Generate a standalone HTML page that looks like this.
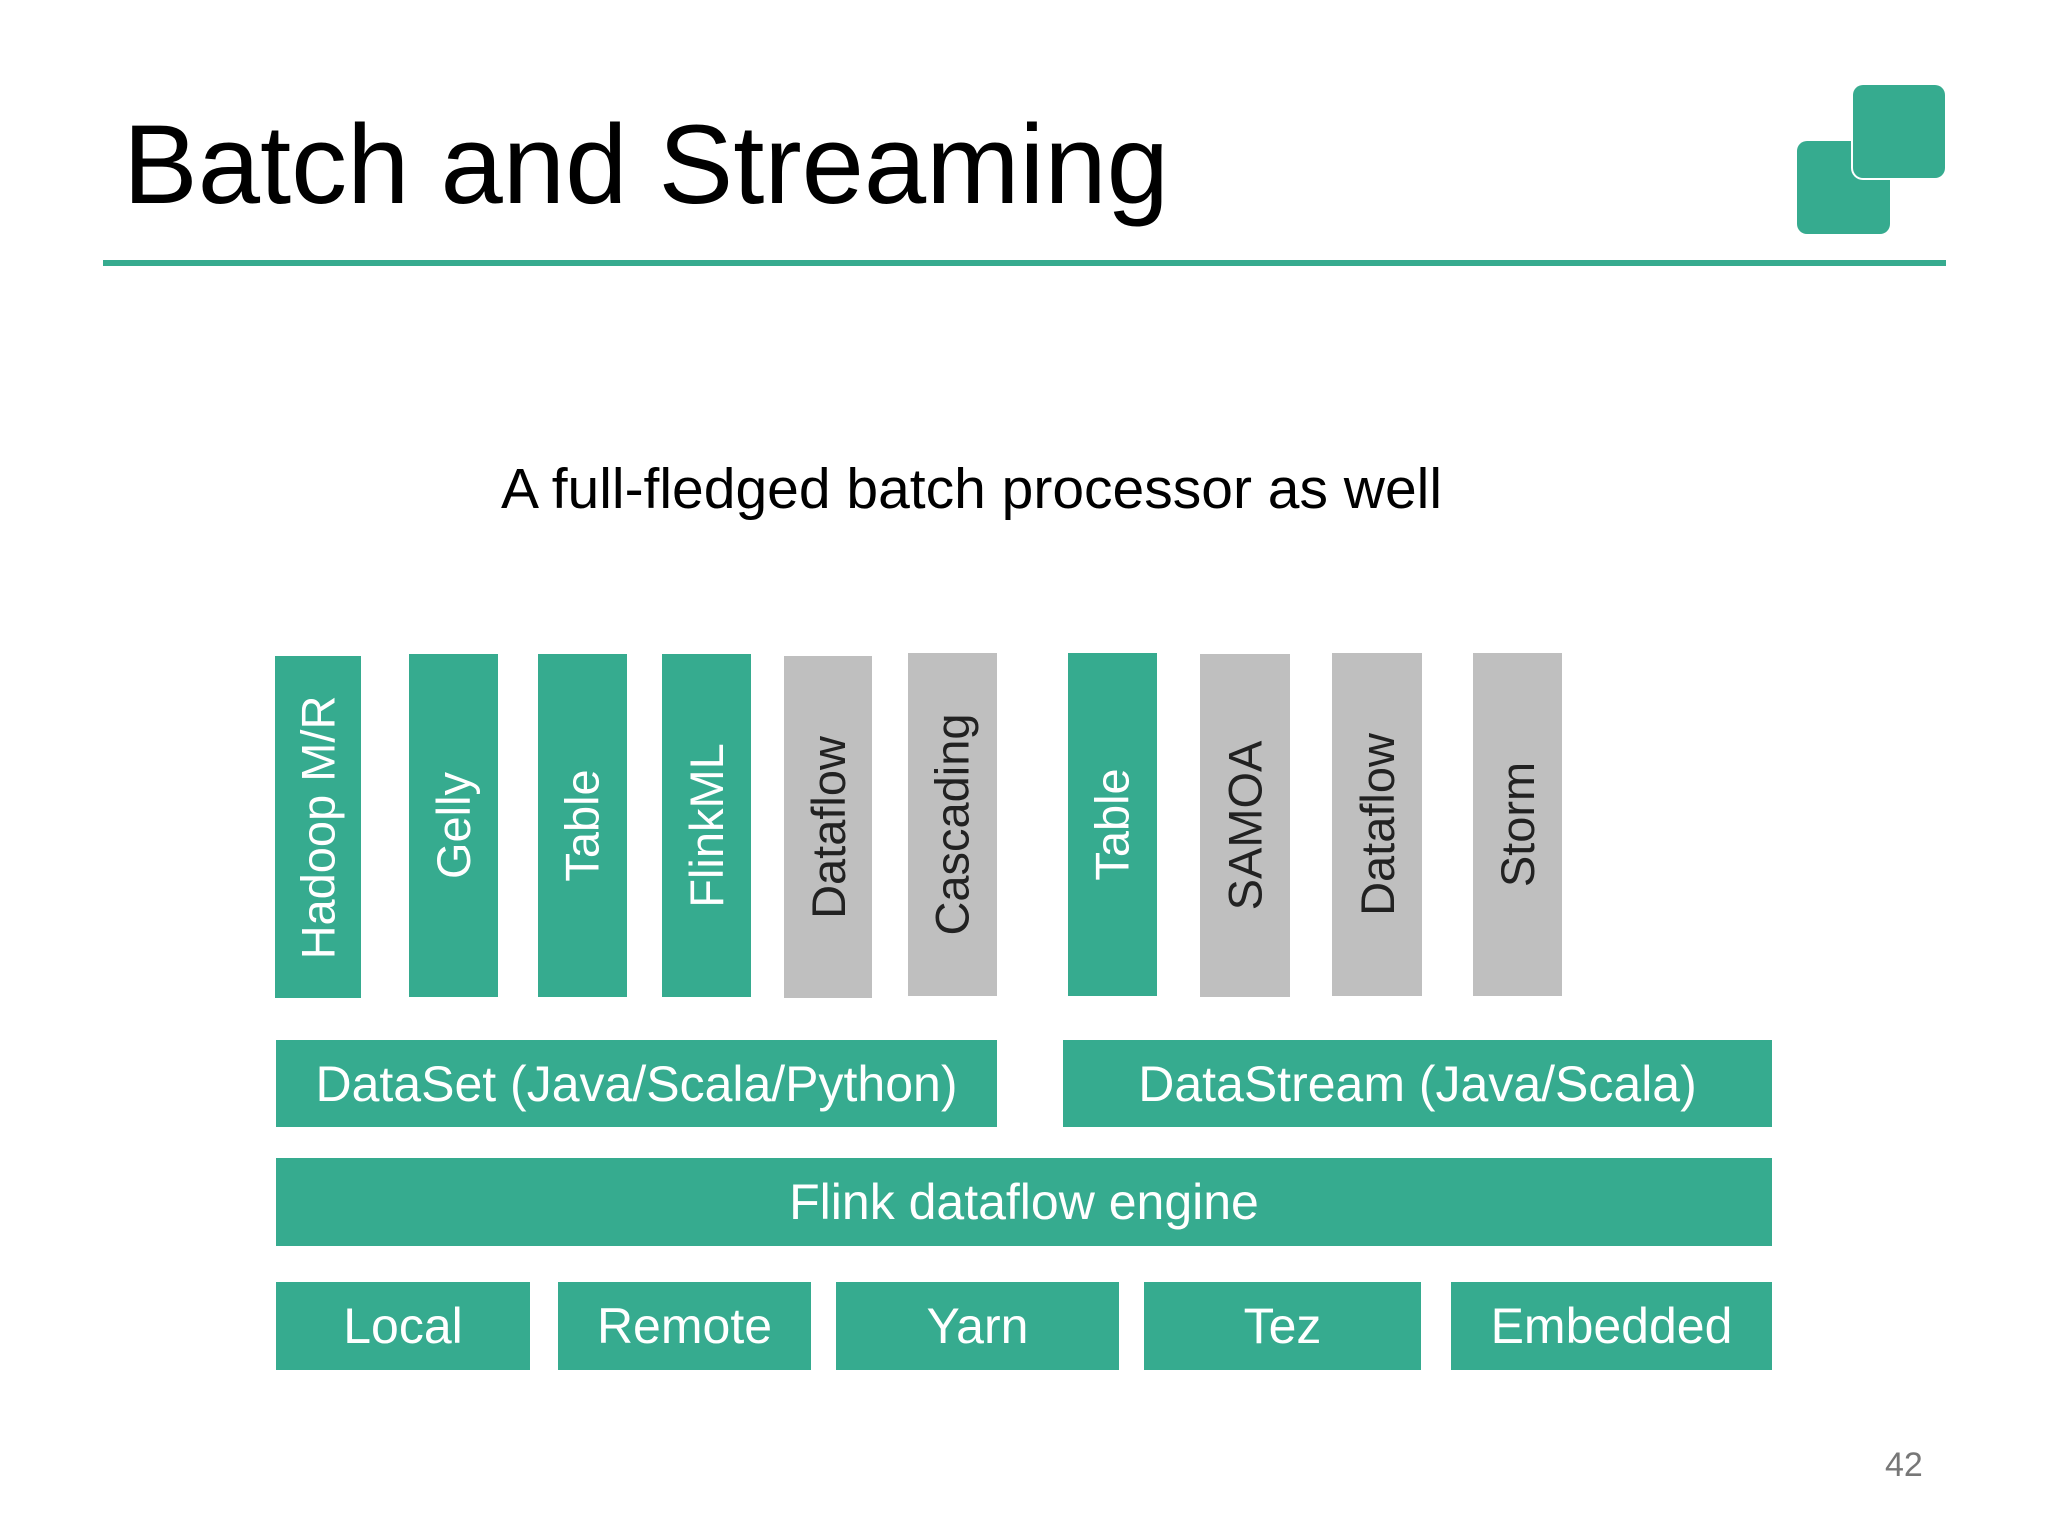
<!DOCTYPE html>
<html><head><meta charset="utf-8"><style>
body{margin:0;width:2048px;height:1536px;background:#fff;position:relative;overflow:hidden;font-family:"Liberation Sans",sans-serif}
.a{position:absolute}
.t{background:#36ab8f;color:#fff}
.g{background:#bfbfbf;color:#222}
.v{position:absolute;display:flex;align-items:center;justify-content:center}
.v span{transform:rotate(-90deg);white-space:nowrap;font-size:47px}
.h{position:absolute;display:flex;align-items:center;justify-content:center;font-size:50px;white-space:nowrap}
</style></head><body>
<div class="a" style="left:123px;top:98px;font-size:112px;color:#000;line-height:1.2">Batch and Streaming</div>
<div class="a" style="left:103px;top:260px;width:1843px;height:6px;background:#36ab8f"></div>
<div class="a" style="left:1797px;top:141px;width:93px;height:93px;background:#36ab8f;border-radius:10px"></div>
<div class="a" style="left:1851px;top:83px;width:97px;height:97px;background:#fff;border-radius:12px"></div>
<div class="a" style="left:1853px;top:85px;width:92px;height:93px;background:#36ab8f;border-radius:10px"></div>
<div class="a" style="left:501px;top:455px;font-size:57px;color:#000;line-height:1.2">A full-fledged batch processor as well</div>

<div class="v t" style="left:275px;top:656px;width:86px;height:342px"><span>Hadoop M/R</span></div>
<div class="v t" style="left:409px;top:654px;width:89px;height:343px"><span>Gelly</span></div>
<div class="v t" style="left:538px;top:654px;width:89px;height:343px"><span>Table</span></div>
<div class="v t" style="left:662px;top:654px;width:89px;height:343px"><span>FlinkML</span></div>
<div class="v g" style="left:784px;top:656px;width:88px;height:342px"><span>Dataflow</span></div>
<div class="v g" style="left:908px;top:653px;width:89px;height:343px"><span>Cascading</span></div>
<div class="v t" style="left:1068px;top:653px;width:89px;height:343px"><span>Table</span></div>
<div class="v g" style="left:1200px;top:654px;width:90px;height:343px"><span>SAMOA</span></div>
<div class="v g" style="left:1332px;top:653px;width:90px;height:343px"><span>Dataflow</span></div>
<div class="v g" style="left:1473px;top:653px;width:89px;height:343px"><span>Storm</span></div>

<div class="h t" style="left:276px;top:1040px;width:721px;height:87px">DataSet (Java/Scala/Python)</div>
<div class="h t" style="left:1063px;top:1040px;width:709px;height:87px">DataStream (Java/Scala)</div>
<div class="h t" style="left:276px;top:1158px;width:1496px;height:88px">Flink dataflow engine</div>
<div class="h t" style="left:276px;top:1282px;width:254px;height:88px">Local</div>
<div class="h t" style="left:558px;top:1282px;width:253px;height:88px">Remote</div>
<div class="h t" style="left:836px;top:1282px;width:283px;height:88px">Yarn</div>
<div class="h t" style="left:1144px;top:1282px;width:277px;height:88px">Tez</div>
<div class="h t" style="left:1451px;top:1282px;width:321px;height:88px">Embedded</div>
<div class="a" style="left:1885px;top:1446px;font-size:34px;color:#777">42</div>
</body></html>
